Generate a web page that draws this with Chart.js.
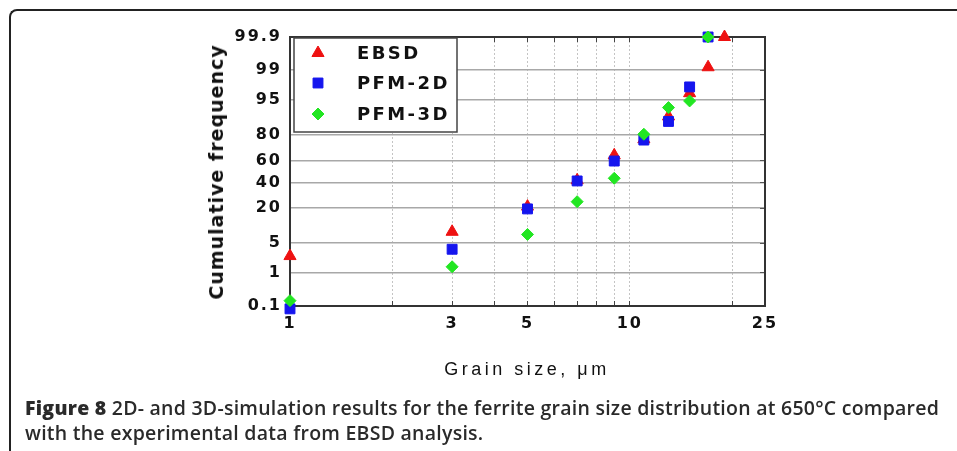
<!DOCTYPE html>
<html>
<head>
<meta charset="utf-8">
<script src="https://cdn.jsdelivr.net/npm/chart.js@4.4.0/dist/chart.umd.min.js"></script>
<style>
  body { margin: 0; background: #fff; overflow: hidden; }
  #wrap { position: relative; width: 957px; height: 451px; }
  #frame {
    position: absolute; left: 9px; top: 9px; width: 1000px; height: 500px;
    border-top: 2px solid #222; border-left: 2px solid #222; border-top-left-radius: 8px;
  }
  canvas { position: absolute; left: 0; top: 0; }
  .ytitle {
    position: absolute; left: 216px; top: 172px; white-space: nowrap;
    transform: translate(-50%, -50%) rotate(-90deg);
    font: bold 19px "DejaVu Sans", sans-serif; letter-spacing: 1px; color: #111;
  }
  .xtitle {
    position: absolute; left: 527px; top: 359px; white-space: nowrap;
    transform: translateX(-50%);
    font: 18px "Liberation Sans", Arial, sans-serif; letter-spacing: 3.5px; color: #111;
  }
  .caption {
    position: absolute; left: 25px; top: 395px; width: 940px; white-space: nowrap;
    font: 600 19.5px "Open Sans", sans-serif; line-height: 25px; color: #2a2a2a;
    letter-spacing: 0.25px;
  }
  .caption b { font-weight: 800; }
</style>
</head>
<body>
<div id="wrap">
  <div id="frame"></div>
  <canvas id="myChart" width="957" height="451"></canvas>
  <div class="ytitle">Cumulative frequency</div>
  <div class="xtitle">Grain size, μm</div>
  <div class="caption"><b>Figure 8</b> 2D- and 3D-simulation results for the ferrite grain size distribution at 650°C compared<br>with the experimental data from EBSD analysis.</div>
</div>

<script>
// 데이터 (그림에서 읽은 값, 단위 %)
const sizesEbsd = [1, 3, 5, 7, 9, 11, 13, 15, 17, 19];
const ebsd      = [2.6, 8.3, 21, 42, 64.5, 77, 89.7, 96.4, 99.17, 99.9];

const sizesPfm = [1, 3, 5, 7, 9, 11, 13, 15, 17];
const pfm2d    = [0.08, 3.7, 19.5, 41.4, 59.5, 76.5, 87.5, 97.4, 99.9];
const pfm3d    = [0.15, 1.43, 7.4, 24.4, 43.8, 80.4, 92.9, 94.75, 99.9];

// 축 눈금
const xTicks = [1, 2, 3, 4, 5, 6, 7, 8, 9, 10, 20, 25];
const xLabels = [1, 3, 5, 10, 25];
const yTicks = [0.1, 1, 5, 20, 40, 60, 80, 95, 99, 99.9];
const yLabels = ['0.1', '1', '5', '20', '40', '60', '80', '95', '99', '99.9'];

// 정규확률 눈금 : 누적확률 -> 표준정규 분위수 (Acklam 근사)
function probit(p) {
  const a = [-39.69683028665376, 220.9460984245205, -275.9285104469687, 138.3577518672690, -30.66479806614716, 2.506628277459239];
  const b = [-54.47609879822406, 161.5858368580409, -155.6989798598866, 66.80131188771972, -13.28068155288572];
  const c = [-0.007784894002430293, -0.3223964580411365, -2.400758277161838, -2.549732539343734, 4.374664141464968, 2.938163982698783];
  const d = [0.007784695709041462, 0.3224671290700398, 2.445134137142996, 3.754408661907416];
  const pl = 0.02425;
  let q, r;
  if (p < pl) {
    q = Math.sqrt(-2 * Math.log(p));
    return (((((c[0]*q + c[1])*q + c[2])*q + c[3])*q + c[4])*q + c[5]) / ((((d[0]*q + d[1])*q + d[2])*q + d[3])*q + 1);
  }
  if (p > 1 - pl) {
    q = Math.sqrt(-2 * Math.log(1 - p));
    return -(((((c[0]*q + c[1])*q + c[2])*q + c[3])*q + c[4])*q + c[5]) / ((((d[0]*q + d[1])*q + d[2])*q + d[3])*q + 1);
  }
  q = p - 0.5;
  r = q * q;
  return (((((a[0]*r + a[1])*r + a[2])*r + a[3])*r + a[4])*r + a[5]) * q / (((((b[0]*r + b[1])*r + b[2])*r + b[3])*r + b[4])*r + 1);
}

function toPoints(xs, ys) {
  let pts = [];
  for (let i = 0; i < ys.length; i++) {
    pts.push({ x: xs[i], y: probit(ys[i] / 100) });
  }
  return pts;
}

const yMin = probit(0.001);
const yMax = probit(0.999);
const tickFont = { family: '"DejaVu Sans", sans-serif', size: 16, weight: 'bold' };

// 글자 간격 넓히기
const spacingPlugin = {
  id: 'spacing',
  beforeDraw(chart) { chart.ctx.letterSpacing = '2px'; }
};

// 그래프 안쪽 범례 박스
const boxLegend = {
  id: 'boxLegend',
  afterDatasetsDraw(chart) {
    const ctx = chart.ctx;
    ctx.save();
    ctx.fillStyle = '#fff';
    ctx.strokeStyle = '#444';
    ctx.lineWidth = 1.5;
    ctx.fillRect(294, 38, 163, 94);
    ctx.strokeRect(294, 38, 163, 94);
    const rows = [53, 83, 114];
    chart.data.datasets.forEach((ds, i) => {
      ctx.fillStyle = ds.backgroundColor;
      ctx.strokeStyle = ds.borderColor;
      ctx.lineWidth = 1;
      Chart.helpers.drawPoint(ctx, { pointStyle: ds.pointStyle, radius: ds.pointRadius, borderWidth: 1 }, 318, rows[i]);
      ctx.fillStyle = '#111';
      ctx.letterSpacing = '2.4px';
      ctx.font = 'bold 18px "DejaVu Sans", sans-serif';
      ctx.textBaseline = 'middle';
      ctx.textAlign = 'left';
      ctx.fillText(ds.label, 357, rows[i] + 1);
    });
    ctx.restore();
  }
};

const ctx = document.getElementById('myChart');

new Chart(ctx, {
  type: 'scatter',
  data: {
    datasets: [
      { label: 'EBSD', data: toPoints(sizesEbsd, ebsd), pointStyle: 'triangle', pointRadius: 7,
        backgroundColor: '#ee1111', borderColor: '#ee1111', borderWidth: 1, order: 3, clip: false },
      { label: 'PFM-2D', data: toPoints(sizesPfm, pfm2d), pointStyle: 'rect', pointRadius: 7,
        backgroundColor: '#1515ee', borderColor: '#1515ee', borderWidth: 1, order: 2, clip: false },
      { label: 'PFM-3D', data: toPoints(sizesPfm, pfm3d), pointStyle: 'rectRot', pointRadius: 6,
        backgroundColor: '#22e622', borderColor: '#22e622', borderWidth: 1, order: 1, clip: false }
    ]
  },
  options: {
    responsive: false,
    animation: false,
    events: [],
    layout: { padding: 0 },
    plugins: { legend: { display: false }, tooltip: { enabled: false } },
    scales: {
      x: {
        type: 'logarithmic', position: 'bottom', min: 1, max: 25,
        afterBuildTicks: (s) => { s.ticks = xTicks.map(v => ({ value: v })); },
        afterFit: (s) => { s.height = 145; },
        ticks: {
          autoSkip: false, maxRotation: 0, padding: 13, color: '#111', font: tickFont,
          callback: (v) => xLabels.includes(v) ? String(v) : ''
        },
        grid: { color: '#c4c4c4', lineWidth: 1, tickLength: -5, tickColor: '#444', tickWidth: 1 },
        border: { color: '#333', width: 2, dash: [2, 2] }
      },
      x2: {
        type: 'logarithmic', position: 'top', min: 1, max: 25,
        afterBuildTicks: (s) => { s.ticks = xTicks.map(v => ({ value: v })); },
        afterFit: (s) => { s.height = 37; },
        ticks: { display: false },
        grid: { drawOnChartArea: false, tickLength: -5, tickColor: '#444', tickWidth: 1 },
        border: { color: '#333', width: 2 }
      },
      y: {
        type: 'linear', position: 'left', min: yMin, max: yMax,
        afterBuildTicks: (s) => { s.ticks = yTicks.map(p => ({ value: probit(p / 100) })); },
        afterFit: (s) => { s.width = 290; },
        ticks: {
          autoSkip: false, padding: 8, color: '#111', font: tickFont,
          callback: (v, i) => yLabels[i]
        },
        grid: { color: '#a8a8a8', lineWidth: 1.5, drawTicks: false },
        border: { color: '#333', width: 2 }
      },
      y2: {
        type: 'linear', position: 'right', min: yMin, max: yMax,
        afterBuildTicks: (s) => { s.ticks = yTicks.map(p => ({ value: probit(p / 100) })); },
        afterFit: (s) => { s.width = 192; },
        ticks: { display: false },
        grid: { drawOnChartArea: false, tickLength: -5, tickColor: '#555' },
        border: { color: '#333', width: 2 }
      }
    }
  },
  plugins: [spacingPlugin, boxLegend]
});
</script>
</body>
</html>
